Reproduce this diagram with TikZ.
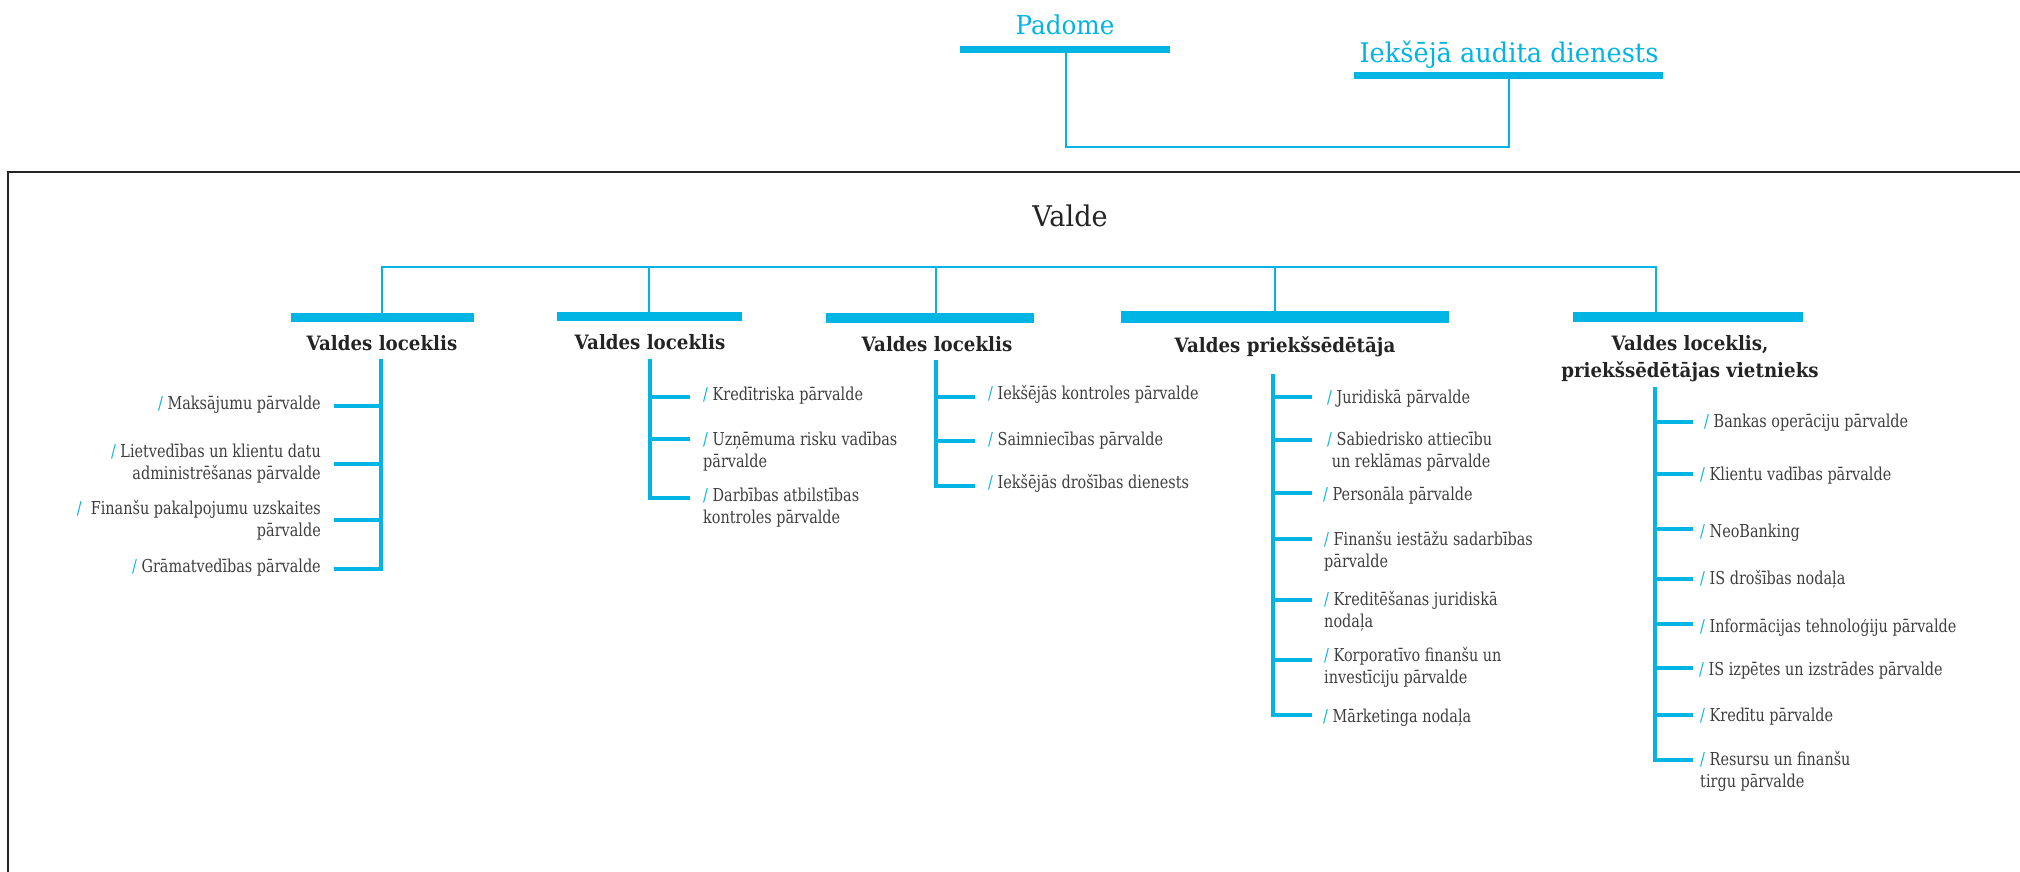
\documentclass[tikz,border=0pt]{standalone}
\usepackage{fontspec}
\setmainfont{DejaVu Serif}
\newfontfamily\itemfont[FakeStretch=0.81]{DejaVu Serif}
\newfontfamily\headfont[FakeStretch=0.92]{DejaVu Serif}
\newfontfamily\titlefont[FakeStretch=0.95]{DejaVu Serif}
\definecolor{cy}{RGB}{0,180,228}
\definecolor{ink}{RGB}{36,36,36}
\definecolor{itm}{RGB}{62,62,62}
\newcommand\slsh{{\color{cy}/}\ }
\begin{document}
\begin{tikzpicture}[x=1pt,y=-1pt,
  bar/.style={fill=cy,draw=none,inner sep=0pt},
  conn/.style={draw=cy,line width=2.4pt},
  topconn/.style={draw=cy,line width=2pt},
  lst/.style={draw=cy,line width=3.2pt},
  frame/.style={draw=ink,line width=2.4pt},
  item/.style={inner sep=0pt,text=itm,font=\itemfont\fontsize{17.8}{22}\selectfont},
  iteml/.style={item,anchor=base west,align=left},
  itemr/.style={item,anchor=base east,align=right},
  head/.style={inner sep=0pt,anchor=base,text=ink,align=center,font=\headfont\bfseries\fontsize{19.8}{27}\selectfont},
  ttl/.style={inner sep=0pt,anchor=base,font=\titlefont\fontsize{#1}{#1}\selectfont}
]
\useasboundingbox (0,0) rectangle (2020,872);
% outer frame
\draw[frame] (8,873) -- (8,172) -- (2021,172);

% top: Padome and internal audit
\node[ttl=26,text=cy] (padome) at (1065,35) {Padome};
\node[bar,minimum width=210,minimum height=7] (pbar) at (1065,49.5) {};
\node[ttl=27,text=cy] (audit) at (1509,63) {Iekšējā audita dienests};
\node[bar,minimum width=309,minimum height=7] (abar) at (1508.5,75.5) {};
\coordinate (pj) at (1066,147);
\draw[topconn] (pj |- pbar.south) -- (pj) -| (abar.south);

% Valde
\node[ttl=28.5,text=ink] (valde) at (1070,226) {Valde};
\coordinate (hub) at (1070,267);

% bars of the board members
\node[bar,minimum width=183,minimum height=9] (b1) at (382.5,317.5) {};
\node[bar,minimum width=185,minimum height=9] (b2) at (649.5,316.5) {};
\node[bar,minimum width=208,minimum height=10] (b3) at (930,318) {};
\node[bar,minimum width=328,minimum height=12] (b4) at (1285,317) {};
\node[bar,minimum width=230,minimum height=10] (b5) at (1688,317) {};
\coordinate (j1) at (382,267);
\coordinate (j2) at (649,267);
\coordinate (j3) at (936,267);
\coordinate (j4) at (1275,267);
\coordinate (j5) at (1656,267);
\draw[conn] (j1 |- b1.north) -- (j1) -- (j5) -- (j5 |- b5.north);
\draw[conn] (j2) -- (j2 |- b2.north);
\draw[conn] (j3) -- (j3 |- b3.north);
\draw[conn] (j4) -- (j4 |- b4.north);

% headings (base anchor = baseline of the last line)
\node[head] (h1) at (382,350) {Valdes loceklis};
\node[head] (h2) at (650,349) {Valdes loceklis};
\node[head] (h3) at (937,351) {Valdes loceklis};
\node[head] (h4) at (1285,352) {Valdes priekšsēdētāja};
\node[head] (h5) at (1690,377) {Valdes loceklis,\\priekšsēdētājas vietnieks};

% group 1
\coordinate (v1) at (381,359);
\node[itemr] (g1a) at (321,409) {\slsh Maksājumu pārvalde};
\node[itemr] (g1b) at (321,479) {\slsh Lietvedības un klientu datu\\administrēšanas pārvalde};
\node[itemr] (g1c) at (321,536) {\slsh\ Finanšu pakalpojumu uzskaites\\pārvalde};
\node[itemr] (g1d) at (321,572) {\slsh Grāmatvedības pārvalde};
\coordinate (t1a) at (334,406);
\coordinate (t1b) at (334,464);
\coordinate (t1c) at (334,520);
\coordinate (t1d) at (334,569);
\draw[lst] (v1) |- (t1d);
\foreach \t in {t1a,t1b,t1c} \draw[lst] (\t -| v1) -- (\t);

% group 2
\coordinate (v2) at (650,359);
\node[iteml] (g2a) at (703,400) {\slsh Kredītriska pārvalde};
\node[iteml] (g2b) at (703,467) {\slsh Uzņēmuma risku vadības\\pārvalde};
\node[iteml] (g2c) at (703,523) {\slsh Darbības atbilstības\\kontroles pārvalde};
\coordinate (t2a) at (690,397);
\coordinate (t2b) at (690,439);
\coordinate (t2c) at (690,498);
\draw[lst] (v2) |- (t2c);
\foreach \t in {t2a,t2b} \draw[lst] (\t -| v2) -- (\t);

% group 3
\coordinate (v3) at (936,360);
\node[iteml] (g3a) at (988,399) {\slsh Iekšējās kontroles pārvalde};
\node[iteml] (g3b) at (988,445) {\slsh Saimniecības pārvalde};
\node[iteml] (g3c) at (988,488) {\slsh Iekšējās drošības dienests};
\coordinate (t3a) at (975,397);
\coordinate (t3b) at (975,441);
\coordinate (t3c) at (975,486);
\draw[lst] (v3) |- (t3c);
\foreach \t in {t3a,t3b} \draw[lst] (\t -| v3) -- (\t);

% group 4
\coordinate (v4) at (1273,374);
\node[iteml] (g4a) at (1327,403) {\slsh Juridiskā pārvalde};
\node[iteml] (g4b) at (1327,467) {\slsh Sabiedrisko attiecību\\\ un reklāmas pārvalde};
\node[iteml] (g4c) at (1323,500) {\slsh Personāla pārvalde};
\node[iteml] (g4d) at (1324,567) {\slsh Finanšu iestāžu sadarbības\\pārvalde};
\node[iteml] (g4e) at (1324,627) {\slsh Kreditēšanas juridiskā\\nodaļa};
\node[iteml] (g4f) at (1324,683) {\slsh Korporatīvo finanšu un\\investīciju pārvalde};
\node[iteml] (g4g) at (1323,722) {\slsh Mārketinga nodaļa};
\coordinate (t4a) at (1312,397);
\coordinate (t4b) at (1312,440);
\coordinate (t4c) at (1312,493);
\coordinate (t4d) at (1312,539);
\coordinate (t4e) at (1312,600);
\coordinate (t4f) at (1312,660);
\coordinate (t4g) at (1312,715);
\draw[lst] (v4) |- (t4g);
\foreach \t in {t4a,t4b,t4c,t4d,t4e,t4f} \draw[lst] (\t -| v4) -- (\t);

% group 5
\coordinate (v5) at (1655,387);
\node[iteml] (g5a) at (1704,427) {\slsh Bankas operāciju pārvalde};
\node[iteml] (g5b) at (1700,480) {\slsh Klientu vadības pārvalde};
\node[iteml] (g5c) at (1700,537) {\slsh NeoBanking};
\node[iteml] (g5d) at (1700,584) {\slsh IS drošības nodaļa};
\node[iteml] (g5e) at (1700,632) {\slsh Informācijas tehnoloģiju pārvalde};
\node[iteml] (g5f) at (1699,675) {\slsh IS izpētes un izstrādes pārvalde};
\node[iteml] (g5g) at (1700,721) {\slsh Kredītu pārvalde};
\node[iteml] (g5h) at (1700,787) {\slsh Resursu un finanšu\\tirgu pārvalde};
\coordinate (t5a) at (1693,422);
\coordinate (t5b) at (1693,474);
\coordinate (t5c) at (1693,529);
\coordinate (t5d) at (1693,579);
\coordinate (t5e) at (1693,624);
\coordinate (t5f) at (1693,668);
\coordinate (t5g) at (1693,715);
\coordinate (t5h) at (1693,760);
\draw[lst] (v5) |- (t5h);
\foreach \t in {t5a,t5b,t5c,t5d,t5e,t5f,t5g} \draw[lst] (\t -| v5) -- (\t);
\end{tikzpicture}
\end{document}
